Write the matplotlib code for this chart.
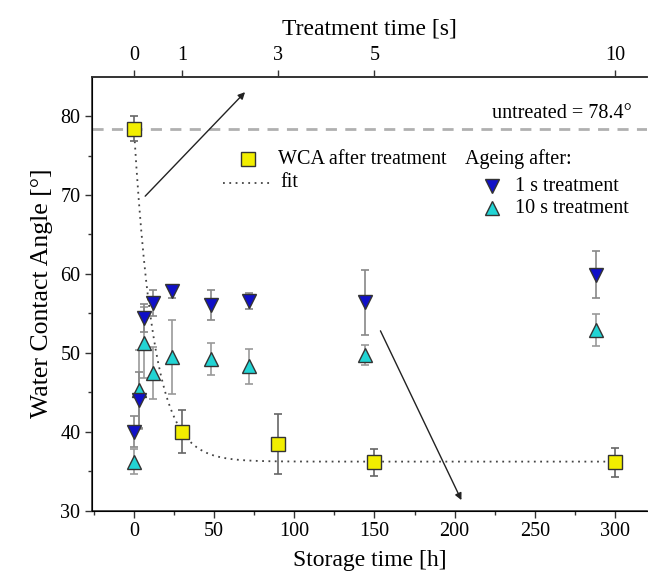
import numpy as np
import matplotlib
matplotlib.use("Agg")
import matplotlib.pyplot as plt

plt.rcParams['font.family'] = ['Liberation Serif', 'DejaVu Serif']

# WCA directly after treatment (treatment time s -> plotted at 30 h per s)
treat_s = [0, 1, 3, 5, 10]
wca_treat = [78.4, 40.0, 38.4, 36.1, 36.1]
err_treat = [1.6, 2.7, 3.8, 1.7, 1.8]

# ageing after 1 s treatment
age_1s_h = [0, 3, 6, 12, 24, 48, 72, 144, 288]
wca_1s = [40.0, 44.0, 54.4, 56.3, 57.8, 56.1, 56.6, 56.4, 59.9]
err_1s = [2.0, 3.5, 1.8, 1.7, 0.8, 1.9, 1.0, 4.1, 3.0]

# ageing after 10 s treatment
age_10s_h = [0, 3, 6, 12, 24, 48, 72, 144, 288]
wca_10s = [36.2, 45.3, 51.3, 47.4, 49.5, 49.2, 48.3, 49.7, 52.9]
err_10s = [1.6, 5.0, 4.5, 3.3, 4.7, 2.0, 2.2, 1.3, 2.0]

untreated = 78.4
# exponential fit parameters (in treatment seconds)
fit_y0, fit_a, fit_tau = 36.2, 42.2, 0.415
h_per_s = 30.0

fs_txt = 14.5
fs_lab = 17

fig = plt.figure(figsize=(6.48, 5.79), dpi=100)
ax = fig.add_axes([0.1424, 0.1183, 0.856, 0.7492])

ax.axhline(untreated, color='#b0b0b0', lw=2, dashes=(4, 3), zorder=1)
ax.text(0.973, 0.916, 'untreated = 78.4°', transform=ax.transAxes,
        ha='right', va='center', fontsize=fs_txt)

tt = np.linspace(0, 10, 400)
ax.plot(tt * h_per_s, fit_y0 + fit_a * np.exp(-tt / fit_tau),
        ls=(0, (1, 2.5)), color='#444444', lw=1.3, zorder=2)

ax.errorbar(age_10s_h, wca_10s, yerr=err_10s, fmt='none', ecolor='#999999',
            elinewidth=1.2, capsize=3, capthick=1.2, zorder=3)
ax.errorbar(age_1s_h, wca_1s, yerr=err_1s, fmt='none', ecolor='#888888',
            elinewidth=1.2, capsize=3, capthick=1.2, zorder=3)
ax.errorbar(np.array(treat_s) * h_per_s, wca_treat, yerr=err_treat, fmt='none',
            ecolor='#666666', elinewidth=1.2, capsize=3, capthick=1.2, zorder=3)

ax.plot(age_10s_h, wca_10s, '^', ms=10, mfc='#22d4d4', mec='#333333', mew=1, ls='none', zorder=4)
ax.plot(age_1s_h, wca_1s, 'v', ms=10, mfc='#1010c8', mec='#333333', mew=1, ls='none', zorder=4)
ax.plot(np.array(treat_s) * h_per_s, wca_treat, 's', ms=9.5, mfc='#f2ee00',
        mec='#333333', mew=1, ls='none', zorder=5)

# arrows
ax.annotate('', xy=(70.5, 83.3), xytext=(5.8, 69.6),
            arrowprops=dict(arrowstyle='-|>', color='#222222', lw=1, mutation_scale=10))
ax.annotate('', xy=(205, 31.0), xytext=(153, 53.1),
            arrowprops=dict(arrowstyle='-|>', color='#222222', lw=1, mutation_scale=10))

# legend (manual)
tr = ax.transAxes
ax.plot([0.281], [0.8096], 's', ms=9.5, mfc='#f2ee00', mec='#333333', mew=1, transform=tr, clip_on=False)
ax.text(0.3348, 0.8096, 'WCA after treatment', transform=tr, va='center', fontsize=fs_txt)
ax.plot([0.2357, 0.324], [0.755, 0.755], ls=(0, (1, 2.5)), color='#444444', lw=1.3, transform=tr)
ax.text(0.3384, 0.755, 'fit', transform=tr, va='center', fontsize=fs_txt)
ax.text(0.672, 0.8096, 'Ageing after:', transform=tr, va='center', fontsize=fs_txt)
ax.plot([0.7206], [0.748], 'v', ms=10, mfc='#1010c8', mec='#333333', mew=1, transform=tr)
ax.text(0.762, 0.748, '1 s treatment', transform=tr, va='center', fontsize=fs_txt)
ax.plot([0.7206], [0.697], '^', ms=10, mfc='#22d4d4', mec='#333333', mew=1, transform=tr)
ax.text(0.762, 0.697, '10 s treatment', transform=tr, va='center', fontsize=fs_txt)

ax.set_xlim(-26, 320)
ax.set_ylim(30, 85)
ax.set_xticks([0, 50, 100, 150, 200, 250, 300])
ax.set_xticks(np.arange(-25, 320, 25), minor=True)
ax.set_yticks([30, 40, 50, 60, 70, 80])
ax.set_yticks(np.arange(35, 85, 10), minor=True)
ax.set_xlabel('Storage time [h]', fontsize=fs_lab, labelpad=6)
ax.set_ylabel('Water Contact Angle [°]', fontsize=18.5, labelpad=5)
ax.tick_params(which='major', direction='out', length=5, width=1, labelsize=fs_txt, color='#333333')
ax.tick_params(which='minor', direction='out', length=3, width=1, color='#333333')
ax.spines['right'].set_visible(False)
for s in ['left', 'bottom', 'top']:
    ax.spines[s].set_color('#333333')
    ax.spines[s].set_linewidth(1.2)

top = ax.twiny()
top.set_xlim(-26 / h_per_s, 320 / h_per_s)
top.set_xticks(treat_s)
top.set_xticklabels([str(t) for t in treat_s])
top.tick_params(direction='out', length=5, width=1, labelsize=fs_txt, color='#333333')
top.set_xlabel('Treatment time [s]', fontsize=fs_lab, labelpad=8)
top.spines['right'].set_visible(False)
top.spines['top'].set_color('#333333')
top.spines['top'].set_linewidth(1.2)

fig.savefig('out.png', dpi=100)
